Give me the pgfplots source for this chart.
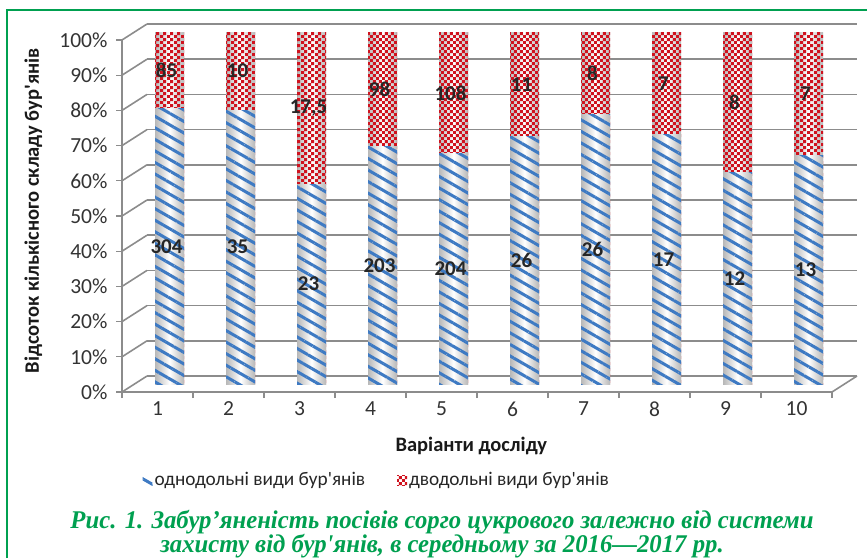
\documentclass[border=0pt]{standalone}
\usepackage{pgfplots}
\pgfplotsset{compat=1.18}
\usepackage{pgfplotstable}
\usetikzlibrary{patterns,patterns.meta}
\usepackage{fontspec}
\setmainfont{Carlito}[Ligatures=TeXOff]
\newfontfamily\capfont{Liberation Serif}[FakeStretch=0.97,Ligatures=TeXOff]
\definecolor{capgreen}{RGB}{0,160,80}
\definecolor{stripeblue}{RGB}{62,122,195}
\definecolor{checkred}{RGB}{208,18,30}
\definecolor{gridgray}{RGB}{140,140,140}
\pgfdeclarepatternformonly{redcheck}{\pgfqpoint{0pt}{0pt}}{\pgfqpoint{6.4pt}{6.4pt}}{\pgfqpoint{6.4pt}{6.4pt}}{%
 \pgfpathrectangle{\pgfqpoint{0pt}{0pt}}{\pgfqpoint{3.2pt}{3.2pt}}%
 \pgfpathrectangle{\pgfqpoint{3.2pt}{3.2pt}}{\pgfqpoint{3.2pt}{3.2pt}}%
 \pgfusepath{fill}}
\tikzset{
 cylshade/.style={draw=none, left color=black!28, right color=black!28, middle color=white},
 bluepat/.style={draw=none, pattern={Lines[angle=-30,distance=10pt,line width=3pt]}, pattern color=stripeblue},
 redpat/.style={draw=none, pattern=redcheck, pattern color=checkred},
}
% x: variant; p1/p2: share of mono-/dicotyledons (%); tot: p1+p2; l1/l2: counts shown; m1/m2: label heights
\pgfplotstableread{
x p1 p2 tot l1 l2 m1 m2
1 78.149 21.851 100 304 85 39.07 89.07
2 77.778 22.222 100 35 10 38.89 88.89
3 56.790 43.210 100 23 17{,}5 28.40 78.40
4 67.442 32.558 100 203 98 33.72 83.72
5 65.385 34.615 100 204 108 32.69 82.69
6 70.270 29.730 100 26 11 35.14 85.14
7 76.471 23.529 100 26 8 38.24 88.24
8 70.833 29.167 100 17 7 35.42 85.42
9 60.000 40.000 100 12 8 30.00 80.00
10 65.000 35.000 100 13 7 32.50 82.50
}\datatable
\begin{document}
\begin{tikzpicture}[x=1pt,y=1pt]
\useasboundingbox (0,0) rectangle (867,-558);
% back wall grid
\begin{axis}[at={(147pt,-376pt)}, anchor=south west, scale only axis,
  width=710pt, height=352pt, xmin=0.5, xmax=10.5, ymin=0, ymax=100,
  axis line style={draw=none}, tick style={draw=none}, xtick=\empty,
  ytick={0,10,...,100}, yticklabels={}, ymajorgrids,
  grid style={gridgray, line width=1.6pt}]
\end{axis}
\foreach \k in {0,...,10} \draw[gridgray, line width=1.6pt] (122,{-392+35.2*\k}) -- ++(25,16);
\draw[gridgray, line width=1.6pt] (832,-392) -- (857,-376);
% front axis
\begin{axis}[at={(122pt,-392pt)}, anchor=south west, scale only axis,
  width=710pt, height=352pt, xmin=0.5, xmax=10.5, ymin=0, ymax=100,
  axis x line*=bottom, axis y line*=left,
  axis line style={gridgray, line width=1.6pt, -},
  tick style={gridgray, line width=1.2pt}, tick align=outside, major tick length=6pt,
  xtick={0.5,1.5,...,10.5}, xticklabels={1,2,3,4,5,6,7,8,9,10}, x tick label as interval,
  ytick={0,10,...,100}, yticklabel={\pgfmathprintnumber{\tick}\%},
  /pgf/number format/assume math mode=true,
  tick label style={font=\fontsize{21.5}{23}\selectfont, text=black!80},
  yticklabel style={xshift=-5pt},
  xlabel={Варіанти досліду}, ylabel={Відсоток кількісного складу бур'янів},
  every axis x label/.style={at={(axis description cs:0.492,-0.153)}, anchor=center,
    font=\fontsize{20.5}{22}\selectfont\bfseries, text=black!90},
  every axis y label/.style={at={(axis description cs:-0.125,0.515)}, rotate=90, anchor=center,
    font=\fontsize{20.5}{22}\selectfont\bfseries, text=black!90}]
\end{axis}
% bars (each cylinder drawn as its own path so that its shading is its own)
\begin{axis}[at={(134pt,-384pt)}, anchor=south west, scale only axis,
  width=710pt, height=352pt, xmin=0.5, xmax=10.5, ymin=0, ymax=100,
  hide axis, ybar, bar width=29pt,
  legend columns=2,
  legend style={draw=none, fill=none, at={(0.342,-0.273)}, anchor=center,
    font=\fontsize{19.3}{21}\selectfont, text=black!85,
    /tikz/every even column/.append style={column sep=30pt}},
  legend image code/.code={\fill[white] (0pt,-5pt) rectangle (10pt,5pt);
     \path[#1] (0pt,-5pt) rectangle (10pt,5pt);}]
\pgfplotsinvokeforeach{1,...,10}{
 \addplot[forget plot, cylshade, bar shift=0pt, restrict x to domain=#1:#1] table[x=x, y=tot] \datatable;
 \addplot[forget plot, redpat, bar shift=0pt, restrict x to domain=#1:#1] table[x=x, y=tot] \datatable;
 \addplot[forget plot, cylshade, bar shift=0pt, restrict x to domain=#1:#1] table[x=x, y=p1] \datatable;
 \addplot[forget plot, bluepat, bar shift=0pt, restrict x to domain=#1:#1] table[x=x, y=p1] \datatable;
}
\addlegendimage{bluepat}
\addlegendentry{однодольні види бур'янів}
\addlegendimage{redpat}
\addlegendentry{дводольні види бур'янів}
\end{axis}
% value labels
\begin{axis}[at={(134pt,-384pt)}, anchor=south west, scale only axis,
  width=710pt, height=352pt, xmin=0.5, xmax=10.5, ymin=0, ymax=100,
  hide axis, point meta=explicit symbolic, nodes near coords,
  every node near coord/.append style={anchor=center, xshift=-3pt,
    font=\fontsize{21}{22}\selectfont\bfseries, text=black!85}]
\addplot[only marks, mark=*, mark size=0pt, mark options={draw=none, fill=none}] table[x=x, y=m1, meta=l1] \datatable;
\addplot[only marks, mark=*, mark size=0pt, mark options={draw=none, fill=none}] table[x=x, y=m2, meta=l2] \datatable;
\end{axis}
% caption and frame
\node[anchor=base, text=capgreen, font=\capfont\bfseries\itshape\fontsize{25.5}{25.5}\selectfont] at (442,-528)
  {Рис. 1. Забур’яненість посівів сорго цукрового залежно від системи};
\node[anchor=base, text=capgreen, font=\capfont\bfseries\itshape\fontsize{25.5}{25.5}\selectfont] at (442,-552.5)
  {захисту від бур'янів, в середньому за 2016—2017 рр.};
\draw[capgreen, line width=2pt] (7,-558) -- (7,-10) -- (867,-10);
\end{tikzpicture}
\end{document}
